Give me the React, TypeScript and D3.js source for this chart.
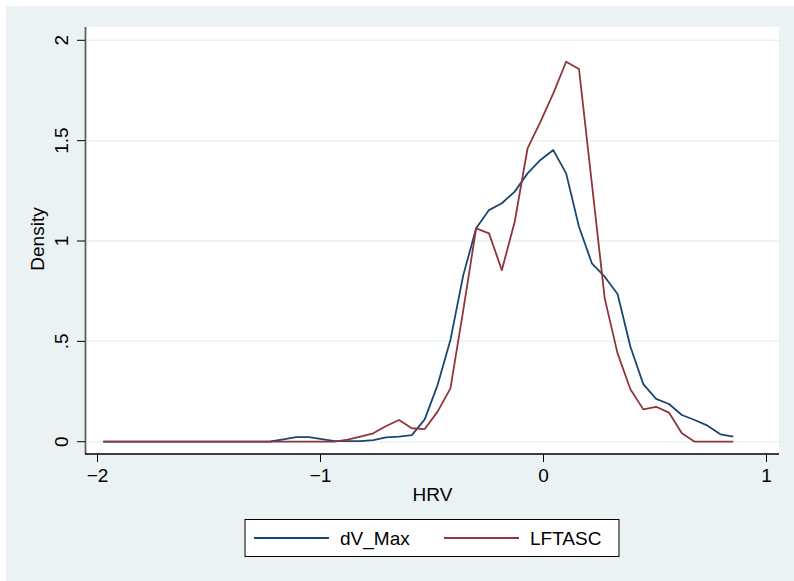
import React, { useEffect, useRef } from 'react';
import * as d3 from 'd3';

// shared evaluation grid of the two kernel densities (50 points)
const gridStart = -1.974;
const gridEnd = 0.851;

const dVMax = [
  0, 0, 0, 0, 0, 0, 0, 0, 0, 0,
  0, 0, 0, 0.001, 0.012, 0.023, 0.023, 0.013, 0.003, 0.003,
  0.003, 0.008, 0.022, 0.025, 0.033, 0.111, 0.282, 0.507, 0.83, 1.063,
  1.154, 1.188, 1.246, 1.337, 1.404, 1.453, 1.337, 1.071, 0.889, 0.822,
  0.736, 0.473, 0.287, 0.213, 0.188, 0.133, 0.108, 0.08, 0.037, 0.025,
];

const lftasc = [
  0, 0, 0, 0, 0, 0, 0, 0, 0, 0,
  0, 0, 0, 0, 0, 0, 0, 0, 0, 0.01,
  0.025, 0.042, 0.078, 0.108, 0.067, 0.063, 0.15, 0.266, 0.656, 1.063,
  1.038, 0.855, 1.096, 1.462, 1.594, 1.736, 1.893, 1.857, 1.287, 0.714,
  0.44, 0.261, 0.161, 0.174, 0.145, 0.042, 0, 0, 0, 0,
];

const xTicks = [-2, -1, 0, 1];
const xTickLabels = ['\u22122', '\u22121', '0', '1'];
const yTicks = [0, 0.5, 1, 1.5, 2];
const yTickLabels = ['0', '.5', '1', '1.5', '2'];

const seriesNames = ['dV_Max', 'LFTASC'];
const seriesColors = ['#1a476f', '#90353b'];

const W = 794;
const H = 581;

export default function App() {
  const svgRef = useRef<SVGSVGElement>(null);

  useEffect(() => {
    if (!svgRef.current) return;
    const svg = d3.select(svgRef.current);
    svg.selectAll('*').remove();

    const font = 'Liberation Sans, Arial, Helvetica, sans-serif';
    const fs = 19;
    const plot = { left: 86, right: 779, top: 27, bottom: 454 };

    svg.append('rect').attr('width', W).attr('height', H).attr('fill', '#ffffff');
    svg.append('rect').attr('x', 6).attr('y', 6).attr('width', W - 6).attr('height', H - 6)
      .attr('fill', '#eaf2f3');
    svg.append('rect')
      .attr('x', plot.left).attr('y', plot.top)
      .attr('width', plot.right - plot.left).attr('height', plot.bottom - plot.top)
      .attr('fill', '#ffffff');

    const x = d3.scaleLinear().domain([0, 1]).range([543.5, 766.5]);
    const y = d3.scaleLinear().domain([0, 2]).range([441.7, 40.3]);

    // grid lines
    svg.append('g').selectAll('line')
      .data(yTicks)
      .enter().append('line')
      .attr('x1', plot.left + 1).attr('x2', plot.right)
      .attr('y1', d => y(d)).attr('y2', d => y(d))
      .attr('stroke', '#eaf2f3').attr('stroke-width', 1.5);

    // curves
    const n = dVMax.length;
    const grid = d3.range(n).map(i => gridStart + (i * (gridEnd - gridStart)) / (n - 1));
    const line = d3.line<number>()
      .x((d, i) => x(grid[i]))
      .y(d => y(d));
    [dVMax, lftasc].forEach((vals, k) => {
      svg.append('path')
        .datum(vals)
        .attr('d', line)
        .attr('fill', 'none')
        .attr('stroke', seriesColors[k])
        .attr('stroke-width', 1.8)
        .attr('stroke-linejoin', 'round');
    });

    // y axis
    svg.append('line')
      .attr('x1', plot.left - 0.5).attr('x2', plot.left - 0.5)
      .attr('y1', plot.top).attr('y2', plot.bottom)
      .attr('stroke', '#606060').attr('stroke-width', 1.8);
    const yg = svg.append('g');
    yTicks.forEach((t, i) => {
      yg.append('line')
        .attr('x1', plot.left - 9).attr('x2', plot.left - 1)
        .attr('y1', y(t)).attr('y2', y(t))
        .attr('stroke', '#000').attr('stroke-width', 1);
      yg.append('text')
        .attr('transform', `translate(67.5,${y(t)}) rotate(-90)`)
        .attr('text-anchor', 'middle')
        .attr('font-family', font).attr('font-size', fs)
        .attr('fill', '#000')
        .text(yTickLabels[i]);
    });
    svg.append('text')
      .attr('transform', `translate(44,239) rotate(-90)`)
      .attr('text-anchor', 'middle')
      .attr('font-family', font).attr('font-size', fs)
      .attr('fill', '#000')
      .text('Density');

    // x axis
    svg.append('line')
      .attr('x1', plot.left - 1).attr('x2', plot.right)
      .attr('y1', plot.bottom).attr('y2', plot.bottom)
      .attr('stroke', '#000').attr('stroke-width', 1.3);
    const xg = svg.append('g');
    xTicks.forEach((t, i) => {
      xg.append('line')
        .attr('x1', x(t)).attr('x2', x(t))
        .attr('y1', plot.bottom).attr('y2', plot.bottom + 8)
        .attr('stroke', '#000').attr('stroke-width', 1);
      xg.append('text')
        .attr('x', x(t)).attr('y', 482)
        .attr('text-anchor', 'middle')
        .attr('font-family', font).attr('font-size', fs)
        .attr('fill', '#000')
        .text(xTickLabels[i]);
    });
    svg.append('text')
      .attr('x', (plot.left + plot.right) / 2).attr('y', 501)
      .attr('text-anchor', 'middle')
      .attr('font-family', font).attr('font-size', fs)
      .attr('fill', '#000')
      .text('HRV');

    // legend
    const lg = svg.append('g');
    lg.append('rect')
      .attr('x', 245).attr('y', 519.5).attr('width', 374).attr('height', 37)
      .attr('fill', '#fff').attr('stroke', '#000').attr('stroke-width', 1);
    const legendX = [254, 444];
    seriesNames.forEach((name, k) => {
      lg.append('line')
        .attr('x1', legendX[k]).attr('x2', legendX[k] + 75)
        .attr('y1', 538).attr('y2', 538)
        .attr('stroke', seriesColors[k]).attr('stroke-width', 1.8);
      lg.append('text')
        .attr('x', legendX[k] + 86).attr('y', 545)
        .attr('font-family', font).attr('font-size', fs)
        .attr('fill', '#000')
        .text(name);
    });
  }, []);

  return (
    <svg
      ref={svgRef}
      width={W}
      height={H}
      style={{ position: 'absolute', left: 0, top: 0, display: 'block' }}
    />
  );
}
